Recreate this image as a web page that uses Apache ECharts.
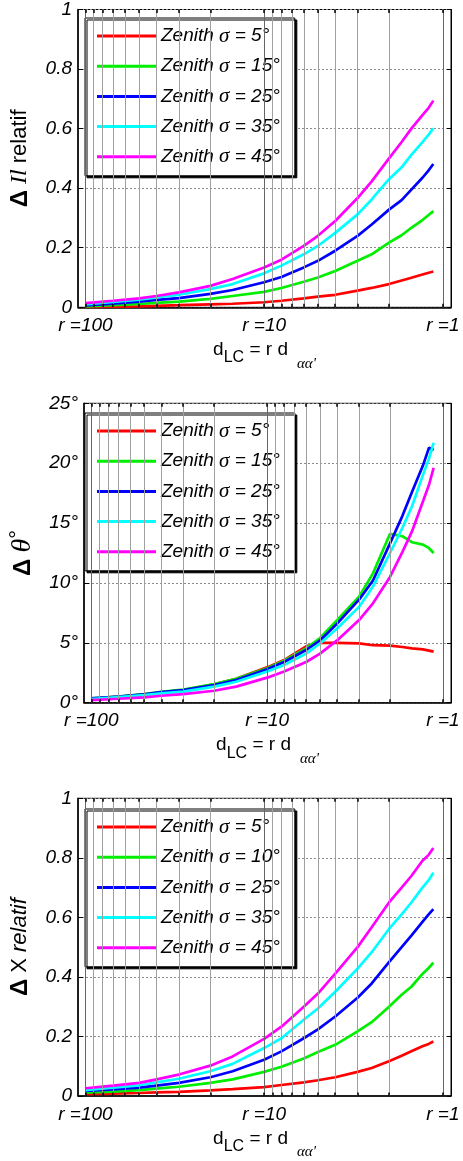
<!DOCTYPE html>
<html>
<head>
<meta charset="utf-8">
<script src="https://cdn.jsdelivr.net/npm/echarts@6/dist/echarts.min.js"></script>
<style>
html,body{margin:0;padding:0;background:#fff;}
#chart{width:463px;height:1161px;}
</style>
</head>
<body>
<div id="chart"></div>
<script>
// ---- data ----
const rValues = [100, 70, 50, 40, 30, 20, 15, 10, 8, 6, 5, 4, 3, 2.5, 2, 1.7, 1.5, 1.3, 1.2, 1.13];
const sigmaPanel12 = [5, 15, 25, 35, 45];
const sigmaPanel3 = [5, 10, 25, 35, 45];
const lineColors = ['#ff0000', '#00ee00', '#0000ff', '#00ffff', '#ff00ff'];

// Panel 1 : Delta Il relatif
const il_s5  = [0.001,0.002,0.003,0.005,0.007,0.010,0.012,0.017,0.022,0.030,0.036,0.042,0.056,0.065,0.078,0.090,0.099,0.110,0.116,0.120];
const il_s15 = [0.003,0.007,0.011,0.015,0.019,0.028,0.038,0.052,0.065,0.086,0.100,0.122,0.156,0.178,0.217,0.242,0.267,0.293,0.310,0.323];
const il_s25 = [0.006,0.012,0.019,0.025,0.031,0.045,0.058,0.084,0.102,0.134,0.156,0.190,0.240,0.278,0.328,0.360,0.395,0.435,0.460,0.481];
const il_s35 = [0.010,0.018,0.026,0.033,0.042,0.061,0.078,0.114,0.140,0.178,0.206,0.250,0.312,0.362,0.430,0.470,0.512,0.555,0.580,0.601];
const il_s45 = [0.014,0.022,0.030,0.038,0.050,0.072,0.095,0.134,0.160,0.206,0.240,0.290,0.367,0.423,0.500,0.555,0.600,0.645,0.670,0.694];

// Panel 2 : Delta theta (degrees)
const th_s5  = [0.30,0.48,0.67,0.85,1.06,1.53,2.00,2.95,3.56,4.70,5.00,5.00,4.95,4.80,4.76,4.65,4.54,4.45,4.35,4.26];
const th_s15 = [0.36,0.52,0.72,0.90,1.10,1.56,2.00,2.87,3.50,4.54,5.40,6.90,8.85,10.8,14.1,13.9,13.4,13.2,12.9,12.5];
const th_s25 = [0.36,0.52,0.70,0.88,1.06,1.48,1.90,2.80,3.40,4.40,5.20,6.60,8.60,10.2,13.3,15.6,17.6,19.8,21.3,21.1];
const th_s35 = [0.30,0.47,0.64,0.78,0.92,1.34,1.75,2.60,3.15,4.10,4.95,6.20,8.00,9.70,12.5,14.6,16.4,19.0,20.4,21.7];
const th_s45 = [0.22,0.33,0.45,0.58,0.72,1.00,1.34,2.09,2.60,3.40,4.10,5.20,6.90,8.30,10.5,12.6,14.3,16.8,18.2,19.6];

// Panel 3 : Delta X relatif
const x_s5  = [0.006,0.008,0.010,0.012,0.014,0.019,0.023,0.030,0.037,0.046,0.053,0.063,0.081,0.094,0.117,0.135,0.150,0.167,0.175,0.183];
const x_s10 = [0.011,0.015,0.020,0.025,0.031,0.044,0.056,0.081,0.098,0.126,0.148,0.172,0.217,0.248,0.300,0.340,0.367,0.410,0.430,0.448];
const x_s25 = [0.017,0.022,0.028,0.035,0.044,0.063,0.083,0.122,0.150,0.194,0.224,0.267,0.330,0.378,0.450,0.500,0.539,0.585,0.610,0.628];
const x_s35 = [0.020,0.028,0.036,0.046,0.058,0.083,0.108,0.161,0.194,0.256,0.294,0.350,0.428,0.483,0.561,0.610,0.650,0.700,0.725,0.750];
const x_s45 = [0.026,0.035,0.044,0.056,0.072,0.102,0.133,0.192,0.233,0.300,0.344,0.411,0.500,0.567,0.650,0.700,0.739,0.790,0.810,0.833];

// axis ticks
const xTickValues = [100, 10, 1];
const xTickLabels = ['r =100', 'r =10', 'r =1'];
const minorGridR = [90, 80, 70, 60, 50, 40, 30, 20, 9, 8, 7, 6, 5, 4, 3, 2];
const majorGridR = [100, 10, 1];
const yTicksRel = [0, 0.2, 0.4, 0.6, 0.8, 1];
const yTicksDeg = [0, 5, 10, 15, 20, 25];

// ---- chart ----
const FONT = 'Liberation Sans';
const SERIF = 'Liberation Serif';
const panels = [
  { top: 7.3, height: 300, legendTop: 18, sigmas: sigmaPanel12,
    data: [il_s5, il_s15, il_s25, il_s35, il_s45], yTicks: yTicksRel, deg: false,
    yName: '{d|Δ} {i|Il} relatif' },
  { top: 403.3, height: 299.4, legendTop: 413, sigmas: sigmaPanel12,
    data: [th_s5, th_s15, th_s25, th_s35, th_s45], yTicks: yTicksDeg, deg: true,
    yName: '{d|Δ} {t|θ}{o|°}' },
  { top: 798.3, height: 300, legendTop: 809, sigmas: sigmaPanel3,
    data: [x_s5, x_s10, x_s25, x_s35, x_s45], yTicks: yTicksRel, deg: false,
    yName: '{d|Δ} X {i|relatif}' }
];

const grids = [], xAxes = [], yAxes = [], series = [], legends = [];
const nameOf = s => 'Zenith σ = ' + s + '°';

panels.forEach((p, i) => {
  grids.push({ left: 75, top: p.top, width: 376, height: p.height, show: true,
    borderColor: '#000', borderWidth: 1, backgroundColor: '#fff' });
  xAxes.push({
    type: 'log', logBase: 10, gridIndex: i, inverse: true, min: 0.9, max: 110,
    axisLine: { show: true, onZero: false, lineStyle: { color: '#000', width: 1.5 } },
    axisTick: { show: false }, splitLine: { show: false },
    axisLabel: {
      show: true, margin: 9, color: '#000', fontFamily: FONT, fontStyle: 'italic', fontSize: 19,
      showMinLabel: true, showMaxLabel: true,
      formatter: v => {
        const k = xTickValues.findIndex(t => Math.abs(Math.log10(v) - Math.log10(t)) < 1e-6);
        return k >= 0 ? xTickLabels[k] : '';
      }
    },
    name: '{a|d}{b|LC}{a| = r d}{c|αα\'}', nameLocation: 'middle', nameGap: 33,
    nameTextStyle: {
      color: '#000', fontFamily: FONT, fontSize: 19,
      rich: {
        a: { fontFamily: FONT, fontSize: 19, lineHeight: 20, verticalAlign: 'top', color: '#000' },
        b: { fontFamily: FONT, fontSize: 16, lineHeight: 16, padding: [9.5, 0, 0, 0], verticalAlign: 'top', color: '#000' },
        c: { fontFamily: SERIF, fontStyle: 'italic', fontSize: 15, lineHeight: 14, padding: [16, 0, 0, 9], verticalAlign: 'top', color: '#000' }
      }
    }
  });
  const yMax = p.yTicks[p.yTicks.length - 1];
  const yInt = p.yTicks[1] - p.yTicks[0];
  const tickLen = yMax / p.height * 3.5;
  yAxes.push({
    type: 'value', gridIndex: i, min: 0, max: yMax, interval: yInt, position: 'left',
    axisLine: { show: true, lineStyle: { color: '#000', width: 1.5 } },
    axisTick: { show: true, inside: true, length: 5, lineStyle: { color: '#000' } },
    splitLine: { show: true, lineStyle: { color: '#8c8c8c', width: 1, type: [2, 2] } },
    axisLabel: { margin: 6, color: '#000', fontFamily: FONT, fontStyle: 'italic', fontSize: 19,
      formatter: v => p.deg ? v + '°' : String(v) },
    name: p.yName, nameLocation: 'middle', nameGap: 46,
    nameTextStyle: {
      color: '#000', fontFamily: FONT, fontSize: 22,
      rich: {
        d: { fontFamily: FONT, fontWeight: 'bold', fontSize: 24, color: '#000' },
        i: { fontFamily: (i === 0 ? SERIF : FONT), fontStyle: 'italic', fontSize: i === 0 ? 24 : 22, color: '#000' },
        t: { fontFamily: SERIF, fontStyle: 'italic', fontSize: 28, color: '#000' },
        o: { fontFamily: FONT, fontSize: 22, color: '#000', padding: [0, 0, 8, 0] }
      }
    }
  });
  yAxes.push({
    type: 'value', gridIndex: i, min: 0, max: yMax, interval: yInt, position: 'right',
    axisLine: { show: true, lineStyle: { color: '#000', width: 1 } },
    axisTick: { show: true, inside: true, length: 4, lineStyle: { color: '#000' } },
    splitLine: { show: false }, axisLabel: { show: false }
  });
  const yIdx = i * 2;
  const allR = majorGridR.concat(minorGridR);
  const edgeTicks = [];
  allR.forEach(r => {
    edgeTicks.push([{ coord: [r, yMax] }, { coord: [r, yMax - tickLen] }]);
    edgeTicks.push([{ coord: [r, 0] }, { coord: [r, tickLen] }]);
  });
  // vertical log grid lines
  series.push({
    type: 'line', xAxisIndex: i, yAxisIndex: yIdx, data: [], z: 1, silent: true,
    markLine: {
      silent: true, symbol: ['none', 'none'], animation: false, label: { show: false },
      lineStyle: { color: '#a0a0a0', width: 1, type: 'solid' },
      data: minorGridR.map(r => ({ xAxis: r }))
        .concat(majorGridR.map(r => ({ xAxis: r, lineStyle: { color: '#666666', width: 1, type: 'solid' } })))
    }
  });
  // small box ticks on top / bottom edges
  series.push({
    type: 'line', xAxisIndex: i, yAxisIndex: yIdx, data: [], z: 4, silent: true,
    markLine: {
      silent: true, symbol: ['none', 'none'], animation: false, label: { show: false },
      lineStyle: { color: '#000', width: 1.5, type: 'solid' },
      data: edgeTicks
    }
  });
  p.data.forEach((vals, k) => {
    series.push({
      type: 'line', name: nameOf(p.sigmas[k]), xAxisIndex: i, yAxisIndex: yIdx, z: 3,
      symbol: 'none', showSymbol: false, animation: false,
      lineStyle: { color: lineColors[k], width: 2.7 }, itemStyle: { color: lineColors[k] },
      data: rValues.map((r, j) => [r, vals[j]])
    });
  });
  legends.push({
    data: p.sigmas.map(nameOf), orient: 'vertical', left: 85, top: p.legendTop,
    icon: 'rect', itemWidth: 59, itemHeight: 3, itemGap: 9.2, selectedMode: false,
    padding: [7.5, 15, 8.5, 12], backgroundColor: '#fff', borderColor: '#000', borderWidth: 1,
    shadowColor: '#000', shadowOffsetX: 2, shadowOffsetY: 2, shadowBlur: 0,
    textStyle: { fontFamily: FONT, fontStyle: 'italic', fontSize: 19, lineHeight: 20, color: '#000',
      rich: { s: { fontFamily: SERIF, fontStyle: 'italic', fontSize: 21, lineHeight: 20, color: '#000' } } },
    formatter: n => n.replace('σ', '{s|σ}')
  });
});

const chart = echarts.init(document.getElementById('chart'), null, { renderer: 'canvas' });
chart.setOption({
  backgroundColor: '#fff', animation: false,
  grid: grids, xAxis: xAxes, yAxis: yAxes, series: series, legend: legends
});
</script>
</body>
</html>
